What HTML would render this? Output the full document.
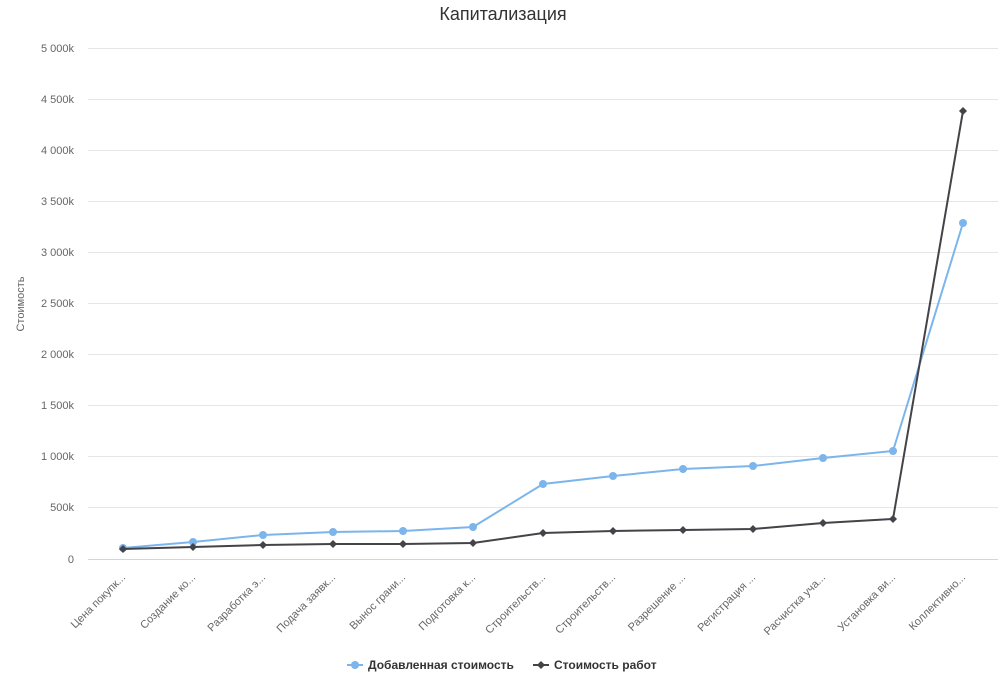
<!DOCTYPE html>
<html><head><meta charset="utf-8"><style>
html,body{margin:0;padding:0;background:#fff;}
svg{display:block;font-family:"Liberation Sans","DejaVu Sans",sans-serif;}
</style></head><body>
<svg width="1007" height="692" viewBox="0 0 1007 692" xmlns="http://www.w3.org/2000/svg">
<rect width="1007" height="692" fill="#fff"/>
<text x="503" y="20" text-anchor="middle" font-size="18" fill="#333">Капитализация</text>
<g stroke="#e6e6e6" stroke-width="1">
<line x1="88" x2="998" y1="48.5" y2="48.5"/>
<line x1="88" x2="998" y1="99.5" y2="99.5"/>
<line x1="88" x2="998" y1="150.5" y2="150.5"/>
<line x1="88" x2="998" y1="201.5" y2="201.5"/>
<line x1="88" x2="998" y1="252.5" y2="252.5"/>
<line x1="88" x2="998" y1="303.5" y2="303.5"/>
<line x1="88" x2="998" y1="354.5" y2="354.5"/>
<line x1="88" x2="998" y1="405.5" y2="405.5"/>
<line x1="88" x2="998" y1="456.5" y2="456.5"/>
<line x1="88" x2="998" y1="507.5" y2="507.5"/>
</g>
<line x1="88" x2="998" y1="559.5" y2="559.5" stroke="#ccd6eb"/>
<g font-size="11" fill="#666" text-anchor="end">
<text x="74" y="52">5 000k</text>
<text x="74" y="103">4 500k</text>
<text x="74" y="154">4 000k</text>
<text x="74" y="205">3 500k</text>
<text x="74" y="256">3 000k</text>
<text x="74" y="307">2 500k</text>
<text x="74" y="358">2 000k</text>
<text x="74" y="409">1 500k</text>
<text x="74" y="460">1 000k</text>
<text x="74" y="511">500k</text>
<text x="74" y="563">0</text>
</g>
<text x="24" y="304" font-size="11" fill="#666" text-anchor="middle" transform="rotate(-90 24 304)">Стоимость</text>
<g font-size="11" fill="#666" text-anchor="end">
<text x="126" y="578" transform="rotate(-45 126 578)">Цена покупк...</text>
<text x="196" y="578" transform="rotate(-45 196 578)">Создание ко...</text>
<text x="266" y="578" transform="rotate(-45 266 578)">Разработка э...</text>
<text x="336" y="578" transform="rotate(-45 336 578)">Подача заявк...</text>
<text x="406" y="578" transform="rotate(-45 406 578)">Вынос грани...</text>
<text x="476" y="578" transform="rotate(-45 476 578)">Подготовка к...</text>
<text x="546" y="578" transform="rotate(-45 546 578)">Строительств...</text>
<text x="616" y="578" transform="rotate(-45 616 578)">Строительств...</text>
<text x="686" y="578" transform="rotate(-45 686 578)">Разрешение ...</text>
<text x="756" y="578" transform="rotate(-45 756 578)">Регистрация ...</text>
<text x="826" y="578" transform="rotate(-45 826 578)">Расчистка уча...</text>
<text x="896" y="578" transform="rotate(-45 896 578)">Установка ви...</text>
<text x="966" y="578" transform="rotate(-45 966 578)">Коллективно...</text>
</g>
<polyline fill="none" stroke="#7cb5ec" stroke-width="2" points="123,548 193,542 263,535 333,532 403,531 473,527 543,484 613,476 683,469 753,466 823,458 893,451 963,223"/>
<g fill="#7cb5ec">
<circle cx="123" cy="548" r="4"/><circle cx="193" cy="542" r="4"/><circle cx="263" cy="535" r="4"/><circle cx="333" cy="532" r="4"/><circle cx="403" cy="531" r="4"/><circle cx="473" cy="527" r="4"/><circle cx="543" cy="484" r="4"/><circle cx="613" cy="476" r="4"/><circle cx="683" cy="469" r="4"/><circle cx="753" cy="466" r="4"/><circle cx="823" cy="458" r="4"/><circle cx="893" cy="451" r="4"/><circle cx="963" cy="223" r="4"/>
</g>
<polyline fill="none" stroke="#434348" stroke-width="2" points="123,549 193,547 263,545 333,544 403,544 473,543 543,533 613,531 683,530 753,529 823,523 893,519 963,111"/>
<g fill="#434348">
<path d="M123 545 L127 549 L123 553 L119 549Z"/><path d="M193 543 L197 547 L193 551 L189 547Z"/><path d="M263 541 L267 545 L263 549 L259 545Z"/><path d="M333 540 L337 544 L333 548 L329 544Z"/><path d="M403 540 L407 544 L403 548 L399 544Z"/><path d="M473 539 L477 543 L473 547 L469 543Z"/><path d="M543 529 L547 533 L543 537 L539 533Z"/><path d="M613 527 L617 531 L613 535 L609 531Z"/><path d="M683 526 L687 530 L683 534 L679 530Z"/><path d="M753 525 L757 529 L753 533 L749 529Z"/><path d="M823 519 L827 523 L823 527 L819 523Z"/><path d="M893 515 L897 519 L893 523 L889 519Z"/><path d="M963 107 L967 111 L963 115 L959 111Z"/>
</g>
<g font-size="12" font-weight="bold" fill="#333">
<line x1="347" x2="363" y1="665" y2="665" stroke="#7cb5ec" stroke-width="2"/>
<circle cx="355" cy="665" r="4" fill="#7cb5ec"/>
<text x="368" y="669">Добавленная стоимость</text>
<line x1="533" x2="549" y1="665" y2="665" stroke="#434348" stroke-width="2"/>
<path d="M541 661 L545 665 L541 669 L537 665Z" fill="#434348"/>
<text x="554" y="669">Стоимость работ</text>
</g>
</svg>
</body></html>
